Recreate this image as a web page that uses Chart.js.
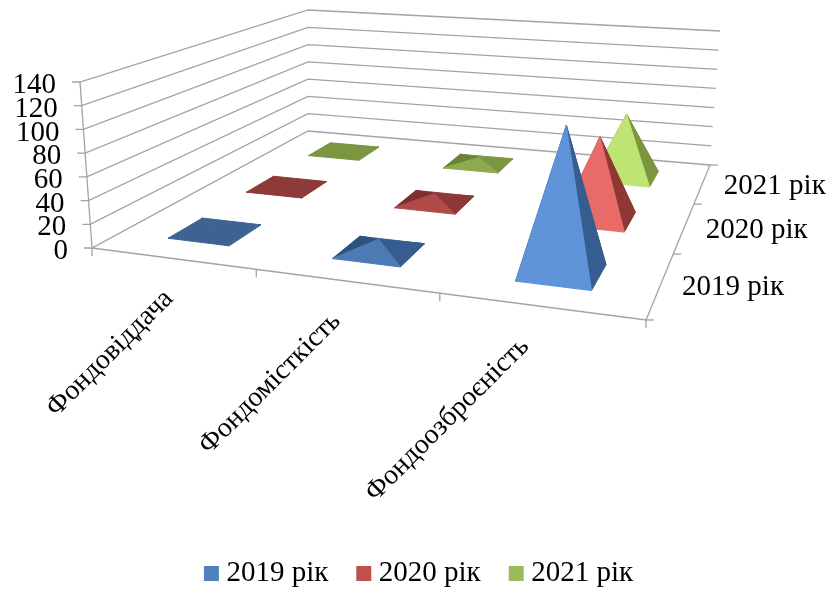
<!DOCTYPE html>
<html>
<head>
<meta charset="utf-8">
<style>
  html, body { margin: 0; padding: 0; background: #fff; }
  #wrap { width: 830px; height: 589px; }
</style>
<script src="https://cdn.jsdelivr.net/npm/chart.js@4"></script>
</head>
<body>
<div id="wrap"><canvas id="chart"></canvas></div>
<script>
const categories = ["Фондовіддача", "Фондомісткість", "Фондоозброєність"];
const seriesNames = ["2019 рік", "2020 рік", "2021 рік"];
const values2019 = [0.5, 10, 122];
const values2020 = [0.5, 8, 75];
const values2021 = [0.5, 6, 63];
const valueTicks = [0, 20, 40, 60, 80, 100, 120, 140];

const seriesValues = [values2019, values2020, values2021];
const AXIS_MAX = 140;
const PAD_LEFT = 14;
const PLOT_H = 524;
const FONT = "Liberation Serif";
const GRID = "#a3a3a3";

// Box corners on the page: front left, front right, back right, back left
const floorQuad = [[92, 248], [646, 320], [710, 165], [308, 131]];
const topQuad = [[80, 82], [668, 140], [720, 31], [308, 10]];

// Legend colour, then faces: flat (nearly zero height), front lit, right dark, left darkest
const palette = [
  { legend: "#4f81bd", flat: [61, 99, 147], front: [94, 147, 216], right: [54, 93, 143], left: [47, 83, 128] },
  { legend: "#c0504d", flat: [141, 58, 56], front: [232, 107, 104], right: [142, 56, 54], left: [125, 48, 46] },
  { legend: "#9bbb59", flat: [122, 150, 63], front: [190, 228, 115], right: [124, 150, 64], left: [105, 130, 52] }
];
const baseHalfU = 0.064;
const baseHalfV = 0.068;

// unit square -> quad
function quadMap(q) {
  const [p0, p1, p2, p3] = q;
  const dx1 = p1[0] - p2[0], dx2 = p3[0] - p2[0], sx = p0[0] - p1[0] + p2[0] - p3[0];
  const dy1 = p1[1] - p2[1], dy2 = p3[1] - p2[1], sy = p0[1] - p1[1] + p2[1] - p3[1];
  const d = dx1 * dy2 - dx2 * dy1;
  const g = (sx * dy2 - dx2 * sy) / d;
  const h = (dx1 * sy - sx * dy1) / d;
  const a = p1[0] - p0[0] + g * p1[0], b = p3[0] - p0[0] + h * p3[0];
  const e = p1[1] - p0[1] + g * p1[1], f = p3[1] - p0[1] + h * p3[1];
  return (u, v) => {
    const w = g * u + h * v + 1;
    return [(a * u + b * v + p0[0]) / w, (e * u + f * v + p0[1]) / w];
  };
}
const floorAt = quadMap(floorQuad);
const topAt = quadMap(topQuad);

function project(u, v, value) {
  const a = floorAt(u, v), b = topAt(u, v), t = value / AXIS_MAX;
  return { x: a[0] + (b[0] - a[0]) * t, y: a[1] + (b[1] - a[1]) * t };
}

function mix(a, b, t) {
  t = Math.max(0, Math.min(1, t));
  const c = a.map((n, i) => Math.round(n + (b[i] - n) * t));
  return `rgb(${c[0]},${c[1]},${c[2]})`;
}

const datasets = [];
function addLine(points, color, width) {
  datasets.push({
    data: points, showLine: true, borderColor: color, borderWidth: width, fill: false,
    pointRadius: 0, tension: 0, order: -datasets.length
  });
}
function addFace(points, color) {
  datasets.push({
    data: points.concat([points[0]]), showLine: true, borderColor: color, borderWidth: 1,
    backgroundColor: color, fill: "shape", pointRadius: 0, tension: 0, order: -datasets.length
  });
}

// walls
valueTicks.forEach(val => {
  const fl = project(0, 0, val);
  addLine([{ x: fl.x - 8, y: fl.y }, fl, project(0, 1, val), project(1, 1, val)], GRID, 1.3);
});
addLine([project(0, 0, 0), project(0, 0, AXIS_MAX)], GRID, 1.3);

// floor edges and ticks
addLine([project(0, 0, 0), project(1, 0, 0), project(1, 1, 0)], GRID, 1.3);
categories.concat([""]).forEach((c, i) => {
  const p = project(i / categories.length, 0, 0);
  addLine([p, { x: p.x, y: p.y + 8 }], GRID, 1.3);
});
seriesNames.concat([""]).forEach((s, i) => {
  const p = project(1, i / seriesNames.length, 0);
  addLine([p, { x: p.x + 8, y: p.y }], GRID, 1.3);
});

// pyramids, back row first
for (let s = seriesNames.length - 1; s >= 0; s--) {
  categories.forEach((cat, c) => {
    const val = seriesValues[s][c];
    const u = (c + 0.5) / categories.length;
    const v = (s + 0.5) / seriesNames.length;
    const col = palette[s];
    const apex = project(u, v, val);
    const fl = project(u - baseHalfU, v - baseHalfV, 0);
    const fr = project(u + baseHalfU, v - baseHalfV, 0);
    const br = project(u + baseHalfU, v + baseHalfV, 0);
    const bl = project(u - baseHalfU, v + baseHalfV, 0);
    const shade = (val - 1) / 5;
    addFace([bl, br, apex], mix(col.flat, col.flat, 0));
    addFace([fl, bl, apex], mix(col.flat, col.left, shade));
    addFace([fr, br, apex], mix(col.flat, col.right, shade));
    addFace([fl, fr, apex], mix(col.flat, col.front, (val - 0.5) / 20));
  });
}

// axis text goes on top of the marks
const axisText = {
  id: "axisText",
  afterDatasetsDraw(chart) {
    const { ctx, scales } = chart;
    ctx.save();
    ctx.fillStyle = "#000";
    ctx.font = `29px "${FONT}"`;
    ctx.textBaseline = "middle";

    ctx.textAlign = "right";
    valueTicks.forEach(val => {
      const p = project(0, 0, val);
      ctx.fillText(String(val), scales.x.getPixelForValue(p.x) - 24, scales.y.getPixelForValue(p.y) + 3.5);
    });

    ctx.textAlign = "left";
    seriesNames.forEach((name, i) => {
      const p = project(1, (i + 0.5) / seriesNames.length, 0);
      ctx.fillText(name, scales.x.getPixelForValue(p.x) + 21.5, scales.y.getPixelForValue(p.y) + 2.5);
    });

    ctx.textAlign = "right";
    ctx.font = `28px "${FONT}"`;
    categories.forEach((name, i) => {
      const p = project((i + 0.5) / categories.length, 0, 0);
      ctx.save();
      ctx.translate(scales.x.getPixelForValue(p.x) - 3 - 6 * i, scales.y.getPixelForValue(p.y) + 36);
      ctx.rotate(-45 * Math.PI / 180);
      ctx.fillText(name, 0, 0);
      ctx.restore();
    });
    ctx.restore();
  }
};

new Chart(document.getElementById("chart"), {
  type: "scatter",
  data: { datasets },
  options: {
    responsive: true,
    maintainAspectRatio: false,
    animation: false,
    events: [],
    layout: { padding: { left: PAD_LEFT, bottom: -9 } },
    scales: {
      x: { type: "linear", min: PAD_LEFT, max: 830, display: false },
      y: { type: "linear", min: 0, max: PLOT_H, reverse: true, display: false }
    },
    plugins: {
      tooltip: { enabled: false },
      legend: {
        position: "bottom",
        labels: {
          color: "#000",
          font: { family: FONT, size: 29 },
          usePointStyle: true,
          boxWidth: 1,
          boxHeight: 15,
          padding: 35,
          generateLabels: () => seriesNames.map((name, i) => ({
            text: name,
            fillStyle: palette[i].legend,
            strokeStyle: palette[i].legend,
            lineWidth: 0,
            pointStyle: "rect",
            hidden: false
          }))
        }
      }
    }
  },
  plugins: [axisText]
});
</script>
</body>
</html>
